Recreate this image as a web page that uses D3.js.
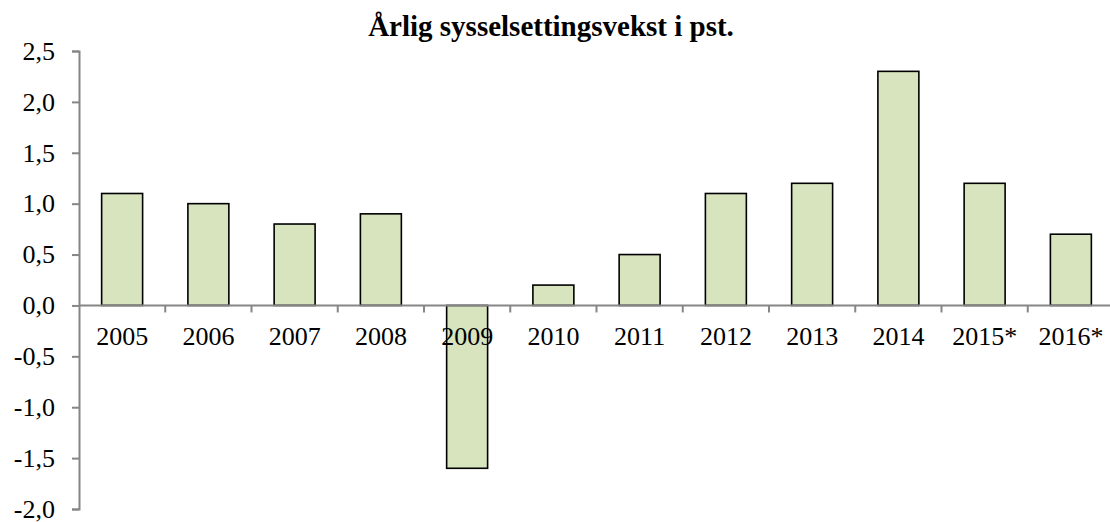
<!DOCTYPE html>
<html>
<head>
<meta charset="utf-8">
<script src="https://cdn.jsdelivr.net/npm/d3@7"></script>
<style>
  body { margin: 0; background: #fff; }
  text { font-family: "Liberation Serif", "Times New Roman", serif; fill: #000; }
</style>
</head>
<body>
<div id="chart"></div>
<script>
var years = ["2005","2006","2007","2008","2009","2010","2011","2012","2013","2014","2015*","2016*"];
var growth = [1.1, 1.0, 0.8, 0.9, -1.6, 0.2, 0.5, 1.1, 1.2, 2.3, 1.2, 0.7];
var yTicks = [-2.0, -1.5, -1.0, -0.5, 0.0, 0.5, 1.0, 1.5, 2.0, 2.5];
var title = "Årlig sysselsettingsvekst i pst.";

var width = 1110, height = 522;
// plot edges (note: "top" is a reserved window property, so use other names)
var plotLeft = 79, plotRight = 1114, plotTop = 51, plotBottom = 509;
var axisColor = "#868686";

var svg = d3.select("#chart").append("svg")
  .attr("width", width)
  .attr("height", height);

/* scales */
var x = d3.scaleBand().domain(years).range([plotLeft, plotRight]).padding(0);
var y = d3.scaleLinear().domain([-2, 2.5]).range([plotBottom, plotTop]);
var barW = x.bandwidth() * 0.475;
var fmt = function (d) { return d3.format(".1f")(d).replace(".", ",").replace("−", "-"); };

/* title */
svg.append("text")
  .attr("x", 551)
  .attr("y", 36)
  .attr("text-anchor", "middle")
  .style("font-size", "29px")
  .style("font-weight", "bold")
  .text(title);

/* y axis */
var yAxis = d3.axisLeft(y).tickValues(yTicks).tickSize(7).tickPadding(17).tickFormat(fmt);
var gy = svg.append("g")
  .attr("transform", "translate(" + plotLeft + ",0)")
  .call(yAxis);
gy.select(".domain").attr("stroke", axisColor).attr("stroke-width", 2);
gy.selectAll(".tick line").attr("stroke", axisColor).attr("stroke-width", 2);
gy.selectAll(".tick text")
  .style("font-size", "26px")
  .attr("font-family", null)
  .attr("dy", "0.32em");

/* bars */
svg.append("g").selectAll("rect")
  .data(growth).enter()
  .append("rect")
  .attr("x", function (d, i) { return x(years[i]) + (x.bandwidth() - barW) / 2; })
  .attr("y", function (d) { return y(Math.max(0, d)); })
  .attr("width", barW)
  .attr("height", function (d) { return Math.abs(y(d) - y(0)); })
  .attr("fill", "#d7e4bd")
  .attr("stroke", "#000")
  .attr("stroke-width", 1.6);

/* x axis at zero */
var gx = svg.append("g").attr("transform", "translate(0," + y(0) + ")");
gx.append("line")
  .attr("x1", plotLeft).attr("x2", plotRight)
  .attr("stroke", axisColor).attr("stroke-width", 2);
gx.selectAll(".xt")
  .data(years.slice(1)).enter()
  .append("line")
  .attr("x1", function (d) { return x(d); })
  .attr("x2", function (d) { return x(d); })
  .attr("y1", 0).attr("y2", 7)
  .attr("stroke", axisColor).attr("stroke-width", 2);
gx.selectAll(".xl")
  .data(years).enter()
  .append("text")
  .attr("x", function (d) { return x(d) + x.bandwidth() / 2; })
  .attr("y", 40)
  .attr("text-anchor", "middle")
  .style("font-size", "26px")
  .text(function (d) { return d; });
</script>
</body>
</html>
